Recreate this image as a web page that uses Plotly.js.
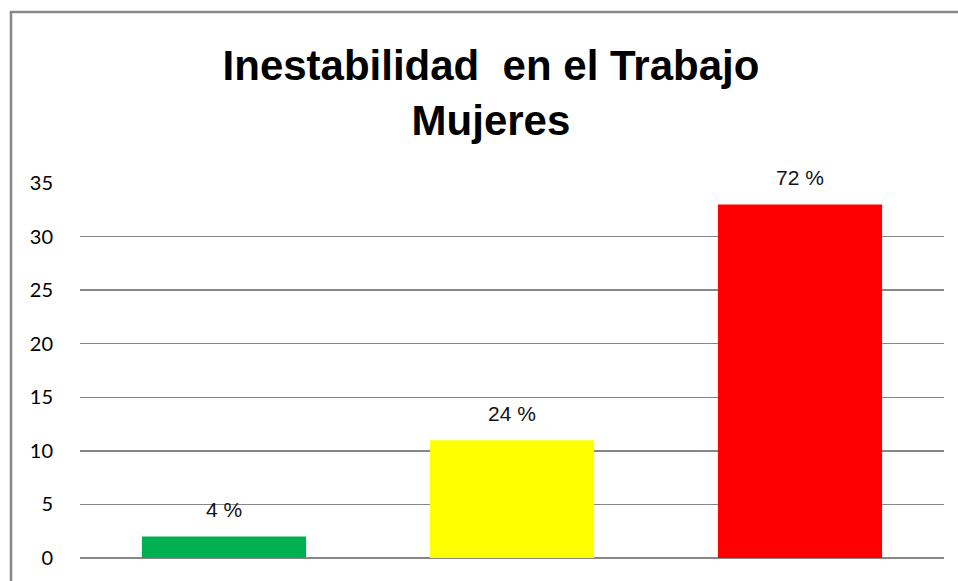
<!DOCTYPE html>
<html>
<head>
<meta charset="utf-8">
<script src="https://cdn.plot.ly/plotly-3.0.1.min.js"></script>
<style>
  html, body { margin: 0; padding: 0; background: #fff; }
  #chart { width: 958px; height: 581px; }
</style>
</head>
<body>
<div id="chart"></div>
<script>
const categories = ["A", "B", "C"];
const values = [2, 11, 33];
const percentLabels = ["4 %", "24 %", "72 %"];
const barColors = ["#00B050", "#FFFF00", "#FF0000"];
const yTicks = [0, 5, 10, 15, 20, 25, 30, 35];

const trace = {
  type: "bar",
  x: categories,
  y: values,
  marker: { color: barColors, line: { width: 0 } },
  hoverinfo: "none"
};

const annotations = categories.map((c, i) => ({
  x: c, y: values[i], xref: "x", yref: "y",
  text: percentLabels[i], showarrow: false,
  yanchor: "middle", yshift: 27,
  font: { family: "Liberation Sans Narrow, Liberation Sans, Arial", size: 21, color: "#111" }
}));

const layout = {
  width: 958, height: 581,
  margin: { l: 80, r: 14, t: 183, b: 23 },
  paper_bgcolor: "#fff", plot_bgcolor: "#fff",
  showlegend: false,
  bargap: 0.43,
  title: {
    text: "Inestabilidad  en el Trabajo<br>Mujeres",
    font: { family: "Liberation Sans Narrow, Liberation Sans, Arial", size: 42, color: "#000", weight: "bold" },
    x: 0.5125, xanchor: "center",
    y: 1 - 80 / 581, yanchor: "middle", yref: "container"
  },
  xaxis: {
    showticklabels: false, showgrid: false, zeroline: false, showline: false,
    ticks: "", fixedrange: true
  },
  yaxis: {
    range: [0, 35], tickvals: yTicks, ticktext: yTicks.map(String),
    showgrid: true, gridcolor: "#878787", gridwidth: 1.3,
    zeroline: true, zerolinecolor: "#878787", zerolinewidth: 2.5,
    showline: false, ticks: "", ticklabelstandoff: 26,
    tickfont: { family: "Lato, Open Sans, Arial", size: 20, color: "#000" },
    fixedrange: true
  },
  annotations: annotations,
  shapes: [
    { type: "line", xref: "paper", yref: "paper",
      x0: (11 - 80) / 864, x1: (11 - 80) / 864, y0: (558 - 581) / 375, y1: (558 - 11) / 375,
      line: { color: "#888", width: 2.5 } },
    { type: "line", xref: "paper", yref: "paper",
      x0: (10 - 80) / 864, x1: (958 - 80) / 864, y0: (558 - 12) / 375, y1: (558 - 12) / 375,
      line: { color: "#888", width: 2.5 } }
  ]
};

Plotly.newPlot("chart", [trace], layout, { displayModeBar: false, staticPlot: true });
</script>
</body>
</html>
